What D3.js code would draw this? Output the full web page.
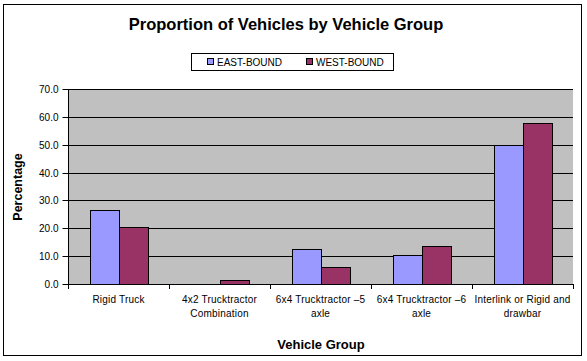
<!DOCTYPE html>
<html>
<head>
<meta charset="utf-8">
<script src="https://cdn.jsdelivr.net/npm/d3@7"></script>
<style>
  body { margin: 0; background: #fff; }
  text { font-family: Arial, "Liberation Sans", sans-serif; fill: #000; }
</style>
</head>
<body>
<div id="chart-area"></div>
<script>
const categories = [
  ["Rigid Truck"],
  ["4x2 Trucktractor", "Combination"],
  ["6x4 Trucktractor \u20135", "axle"],
  ["6x4 Trucktractor \u20136", "axle"],
  ["Interlink or Rigid and", "drawbar"]
];
const seriesNames = ["EAST-BOUND", "WEST-BOUND"];
const eastBound = [26.4, 0.0, 12.5, 10.3, 49.8];
const westBound = [20.3, 1.4, 6.0, 13.6, 57.7];
const yTicks = [0, 10, 20, 30, 40, 50, 60, 70];

const colors = { "EAST-BOUND": "#9999FF", "WEST-BOUND": "#993366" };

const width = 587, height = 361;
const plot = { left: 68, right: 573, top: 89, bottom: 284 };

const svg = d3
  .select("#chart-area")
  .append("svg")
  .attr("width", width)
  .attr("height", height);

// outer frame
svg
  .append("rect")
  .attr("x", 3.5)
  .attr("y", 4.5)
  .attr("width", 578)
  .attr("height", 351)
  .attr("fill", "#fff")
  .attr("stroke", "#000")
  .attr("stroke-width", 1);

const catKeys = categories.map((c, i) => i);

// Scales
const xScale = d3.scaleBand().domain(catKeys).range([plot.left, plot.right]);
const xSeries = d3
  .scaleBand()
  .domain(seriesNames)
  .range([0, xScale.bandwidth()])
  .paddingInner(0)
  .paddingOuter(0.75);
const yScale = d3.scaleLinear().domain([0, 70]).range([plot.bottom, plot.top]);

// plot background
svg
  .append("rect")
  .attr("x", plot.left)
  .attr("y", plot.top)
  .attr("width", plot.right - plot.left)
  .attr("height", plot.bottom - plot.top)
  .attr("fill", "#C0C0C0");

// gridlines
svg
  .append("g")
  .selectAll("line")
  .data(yTicks.filter(d => d > 0))
  .enter()
  .append("line")
  .attr("x1", plot.left)
  .attr("x2", plot.right)
  .attr("y1", d => Math.round(yScale(d)) + 0.5)
  .attr("y2", d => Math.round(yScale(d)) + 0.5)
  .attr("stroke", "#000");

// bars
const data = [];
categories.forEach((c, i) => {
  data.push({ cat: i, series: "EAST-BOUND", value: eastBound[i] });
  data.push({ cat: i, series: "WEST-BOUND", value: westBound[i] });
});

svg
  .append("g")
  .selectAll("rect")
  .data(data.filter(d => d.value > 0))
  .enter()
  .append("rect")
  .attr("x", d => Math.round(xScale(d.cat) + xSeries(d.series)) + 0.5)
  .attr("y", d => Math.round(yScale(d.value)) + 0.5)
  .attr("width", Math.round(xSeries.bandwidth()))
  .attr("height", d => Math.round(yScale(0)) - Math.round(yScale(d.value)))
  .attr("fill", d => colors[d.series])
  .attr("stroke", "#000");

// Y axis
const yAxisGroup = svg
  .append("g")
  .attr("transform", `translate(${plot.left + 0.5},0)`)
  .call(
    d3
      .axisLeft(yScale)
      .tickValues(yTicks)
      .tickFormat(d3.format(".1f"))
      .tickSizeOuter(0)
      .tickSizeInner(6)
      .tickPadding(4)
  );
yAxisGroup.selectAll("path, line").attr("stroke", "#000");
yAxisGroup.selectAll("text").attr("font-size", "10px").attr("fill", "#000");
yAxisGroup.select(".domain").attr("d", `M0,${plot.top}V${plot.bottom + 0.5}`);
yAxisGroup.selectAll(".tick").attr("transform", d => `translate(0,${Math.round(yScale(d)) + 0.5})`);

// X axis
svg
  .append("line")
  .attr("x1", plot.left)
  .attr("x2", plot.right + 0.5)
  .attr("y1", plot.bottom + 0.5)
  .attr("y2", plot.bottom + 0.5)
  .attr("stroke", "#000");

const boundaries = catKeys.map(k => xScale(k)).concat([plot.right]);
svg
  .append("g")
  .selectAll("line")
  .data(boundaries)
  .enter()
  .append("line")
  .attr("x1", d => Math.round(d) + 0.5)
  .attr("x2", d => Math.round(d) + 0.5)
  .attr("y1", plot.bottom)
  .attr("y2", plot.bottom + 5)
  .attr("stroke", "#000");

const xLabels = svg
  .append("g")
  .selectAll("text")
  .data(categories)
  .enter()
  .append("text")
  .attr("x", (d, i) => xScale(i) + xScale.bandwidth() / 2)
  .attr("y", 303)
  .attr("text-anchor", "middle")
  .attr("font-size", "10px")
  .attr("letter-spacing", "0.2px");
xLabels
  .selectAll("tspan")
  .data(d => d)
  .enter()
  .append("tspan")
  .attr("x", function () {
    return d3.select(this.parentNode).attr("x");
  })
  .attr("dy", (d, i) => (i === 0 ? 0 : 13.5))
  .text(d => d);

// Title
svg
  .append("text")
  .attr("x", 286)
  .attr("y", 30)
  .attr("text-anchor", "middle")
  .attr("font-size", "16.5px")
  .attr("font-weight", "bold")
  .text("Proportion of Vehicles by Vehicle Group");

// Axis titles
svg
  .append("text")
  .attr("x", 321)
  .attr("y", 349)
  .attr("text-anchor", "middle")
  .attr("font-size", "13px")
  .attr("font-weight", "bold")
  .text("Vehicle Group");

svg
  .append("text")
  .attr("transform", "translate(22,187) rotate(-90)")
  .attr("text-anchor", "middle")
  .attr("font-size", "12.5px")
  .attr("font-weight", "bold")
  .text("Percentage");

// Legend
const legend = svg.append("g");
legend
  .append("rect")
  .attr("x", 191.5)
  .attr("y", 53.5)
  .attr("width", 202)
  .attr("height", 17)
  .attr("fill", "#fff")
  .attr("stroke", "#000");

const legendX = [207, 306];
const legendItems = legend
  .selectAll("g.item")
  .data(seriesNames)
  .enter()
  .append("g")
  .attr("class", "item")
  .attr("transform", (d, i) => `translate(${legendX[i]},0)`);
legendItems
  .append("rect")
  .attr("x", 0.5)
  .attr("y", 58.5)
  .attr("width", 6)
  .attr("height", 6)
  .attr("fill", d => colors[d])
  .attr("stroke", "#000");
legendItems
  .append("text")
  .attr("x", 10)
  .attr("y", 65.5)
  .attr("font-size", "10px")
  .text(d => d);
</script>
</body>
</html>
